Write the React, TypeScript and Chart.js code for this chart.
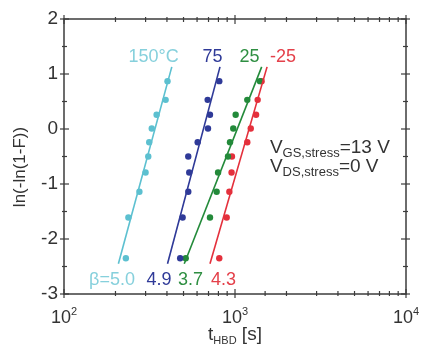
import React, { useEffect, useRef } from 'react';
import { Chart, registerables } from 'chart.js';

Chart.register(...registerables);

// ln(-ln(1-F)) levels of the ranked failures
const yLevels = [0.87, 0.53, 0.26, 0.01, -0.24, -0.5, -0.79, -1.14, -1.61, -2.35];
// t_HBD [s] for each temperature
const t150 = [403, 393, 348, 326, 315, 311, 300, 276, 238, 230];
const t75 = [809, 692, 714, 695, 605, 533, 540, 533, 494, 478];
const t25 = [1400, 1180, 1009, 977, 935, 910, 796, 781, 714, 515];
const tm25 = [1431, 1357, 1328, 1236, 1180, 960, 955, 927, 894, 809];

// Weibull fit lines (end points)
const fitY = [-2.45, 1.13];
const fit150 = [208, 427];
const fit75 = [403, 817];
const fit25 = [505, 1432];
const fitm25 = [714, 1540];

const seriesNames = ['150°C', '75', '25', '-25'];
const betaLabels = ['β=5.0', '4.9', '3.7', '4.3'];
const colors = ['#5cc0d0', '#2f3a98', '#238a3a', '#e4303c'];
const labelColors = ['#86d0dc', '#2f3a98', '#2f8f42', '#e4404a'];

const xTicks = [100, 1000, 10000];
const xTickExp = ['2', '3', '4'];

const FONT = '"Liberation Sans", Arial, Helvetica, sans-serif';
const TEXT = '#333333';

function pts(xs: number[], ys: number[]) {
  return xs.map((x, i) => ({ x, y: ys[i] }));
}

function drawParts(
  ctx: CanvasRenderingContext2D,
  x: number,
  y: number,
  parts: [string, number, number][],
  align: 'left' | 'center',
  color: string
) {
  let total = 0;
  const widths = parts.map(([t, s]) => {
    ctx.font = `${s}px ${FONT}`;
    const w = ctx.measureText(t).width;
    total += w;
    return w;
  });
  let cx = align === 'center' ? x - total / 2 : x;
  ctx.fillStyle = color;
  ctx.textBaseline = 'alphabetic';
  ctx.textAlign = 'left';
  parts.forEach(([t, s, dy], i) => {
    ctx.font = `${s}px ${FONT}`;
    ctx.fillText(t, cx, y + dy);
    cx += widths[i];
  });
}

const decorPlugin = {
  id: 'decor',
  afterDraw(chart: any) {
    const { ctx, chartArea: a, scales } = chart;
    const xs = scales.x;
    const ys = scales.y;
    ctx.save();
    ctx.strokeStyle = '#3c3c3c';
    ctx.lineWidth = 1.5;
    ctx.strokeRect(a.left, a.top, a.right - a.left, a.bottom - a.top);
    ctx.lineWidth = 1.2;
    const seg = (x1: number, y1: number, x2: number, y2: number) => {
      ctx.beginPath();
      ctx.moveTo(x1, y1);
      ctx.lineTo(x2, y2);
      ctx.stroke();
    };
    // y ticks (major + minor), left and right
    for (let v = ys.min; v <= ys.max + 1e-9; v += 0.5) {
      const p = ys.getPixelForValue(v);
      const major = Math.abs(v - Math.round(v)) < 1e-6;
      const out = major ? 4 : 2;
      const inn = major ? 5 : 3;
      seg(a.left - out, p, a.left + inn, p);
      seg(a.right + out, p, a.right - inn, p);
    }
    // x ticks (log), bottom and top
    xs.ticks.forEach((t: any) => {
      const v = t.value;
      if (v < xs.min || v > xs.max) return;
      const p = xs.getPixelForValue(v);
      const lg = Math.log10(v);
      const major = Math.abs(lg - Math.round(lg)) < 1e-6;
      const out = major ? 4 : 2;
      const inn = major ? 5 : 3;
      seg(p, a.bottom + out, p, a.bottom - inn);
      seg(p, a.top - out, p, a.top + inn);
    });
    // x tick labels with superscripts
    xTicks.forEach((v, i) => {
      const p = xs.getPixelForValue(v);
      drawParts(ctx, p, a.bottom + 29, [['10', 18, 0], [xTickExp[i], 11, -8]], 'center', TEXT);
    });
    // x title
    drawParts(
      ctx,
      (a.left + a.right) / 2,
      a.bottom + 46,
      [['t', 19, 0], ['HBD', 11, 4], [' [s]', 19, 0]],
      'center',
      TEXT
    );
    // y title
    ctx.save();
    ctx.translate(20, 167);
    ctx.rotate(-Math.PI / 2);
    ctx.font = `17px ${FONT}`;
    ctx.fillStyle = TEXT;
    ctx.textAlign = 'center';
    ctx.textBaseline = 'middle';
    ctx.fillText('ln(-ln(1-F))', 0, 0);
    ctx.restore();
    // series names (top) and beta values (bottom)
    const topX = [334, 738, 1216, 1910];
    const botX = [191, 359, 549, 857];
    seriesNames.forEach((name, i) => {
      drawParts(ctx, xs.getPixelForValue(topX[i]), ys.getPixelForValue(1.22), [[name, 18, 0]], 'center', labelColors[i]);
      drawParts(ctx, xs.getPixelForValue(botX[i]), ys.getPixelForValue(-2.84), [[betaLabels[i], 18, 0]], 'center', labelColors[i]);
    });
    // stress conditions
    const vx = xs.getPixelForValue(1600);
    drawParts(ctx, vx, ys.getPixelForValue(-0.44), [['V', 19, 0], ['GS,stress', 13, 4], ['=13 V', 19, 0]], 'left', TEXT);
    drawParts(ctx, vx, ys.getPixelForValue(-0.79), [['V', 19, 0], ['DS,stress', 13, 4], ['=0 V', 19, 0]], 'left', TEXT);
    ctx.restore();
  },
};

export default function App() {
  const ref = useRef<HTMLCanvasElement>(null);
  useEffect(() => {
    if (!ref.current) return;
    const series = [t150, t75, t25, tm25];
    const fits = [fit150, fit75, fit25, fitm25];
    const datasets: any[] = [];
    fits.forEach((f, i) => {
      datasets.push({
        type: 'line',
        data: pts(f, fitY),
        borderColor: colors[i],
        borderWidth: 1.6,
        pointRadius: 0,
        showLine: true,
        fill: false,
      });
    });
    series.forEach((s, i) => {
      datasets.push({
        type: 'scatter',
        data: pts(s, yLevels),
        backgroundColor: colors[i],
        borderColor: colors[i],
        pointRadius: 3.2,
        borderWidth: 0,
      });
    });
    const chart = new Chart(ref.current, {
      type: 'scatter',
      data: { datasets },
      options: {
        animation: false,
        responsive: false,
        devicePixelRatio: 1,
        layout: { padding: { left: 0, right: 16, top: 19, bottom: 0 } },
        plugins: { legend: { display: false }, tooltip: { enabled: false } },
        scales: {
          x: {
            type: 'logarithmic',
            min: 100,
            max: 10000,
            grid: { display: false, drawTicks: false },
            border: { display: false },
            ticks: { display: false },
            afterFit: (s: any) => {
              s.height = 59;
            },
          },
          y: {
            min: -3,
            max: 2,
            grid: { display: false, drawTicks: false },
            border: { display: false },
            ticks: {
              stepSize: 1,
              padding: 6,
              color: TEXT,
              font: { size: 19, family: FONT },
            },
            afterFit: (s: any) => {
              s.width = 64;
            },
          },
        },
      },
      plugins: [decorPlugin],
    });
    return () => chart.destroy();
  }, []);
  return (
    <div style={{ position: 'fixed', left: 0, top: 0, width: 422, height: 353, background: '#fff' }}>
      <canvas ref={ref} width={422} height={353} />
    </div>
  );
}
